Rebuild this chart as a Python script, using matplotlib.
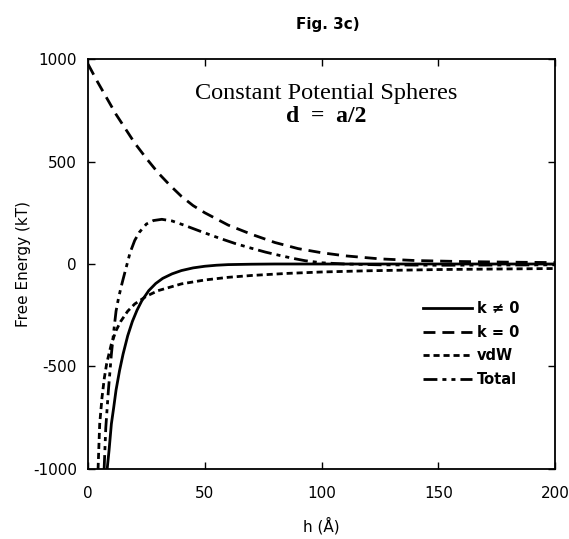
import matplotlib
matplotlib.use("Agg")
import matplotlib.pyplot as plt

plt.rcParams["axes.unicode_minus"] = False

# separation h (Angstrom) and free energies (kT)
h_k0 = [0, 4, 8, 12, 16, 20, 25, 30, 35, 40, 45, 50, 60, 70, 80, 90, 100,
        110, 125, 140, 160, 180, 200]
e_k0 = [975, 890, 810, 730, 660, 590, 515, 445, 385, 330, 285, 250, 190,
        145, 105, 75, 55, 40, 25, 17, 12, 9, 7]

h_kn = [8.2, 9, 10, 11, 12, 13.5, 15, 17, 19, 21, 23, 26, 29, 32, 36, 40,
        45, 50, 55, 60, 70, 80, 100, 150, 200]
e_kn = [-1000, -910, -780, -700, -615, -520, -440, -350, -280, -225, -180,
        -130, -95, -70, -48, -32, -19, -11, -6, -3, -1, 0, 0, 0, 0]

h_vdw = [4.3, 5, 6, 7, 8, 10, 12, 14, 17, 20, 25, 30, 40, 50, 60, 70, 85,
         100, 120, 150, 200]
e_vdw = [-1000, -780, -650, -555, -485, -390, -325, -280, -230, -195, -157,
         -130, -97, -78, -65, -56, -46, -39, -33, -27, -22]

h_tot = [6.9, 7.6, 8.7, 10, 11, 12, 13, 14, 15, 16.5, 18, 20, 22, 25, 28,
         31.6, 36, 41, 48, 56, 63, 69, 76, 82, 88, 93, 100, 110, 125, 150, 200]
e_tot = [-1000, -800, -620, -440, -330, -230, -170, -120, -75, -10, 55, 115,
         155, 195, 212, 218, 210, 190, 160, 127, 100, 80, 58, 42, 27, 16, 6,
         0, -4, -6, -4]

xticks = [0, 50, 100, 150, 200]
yticks = [-1000, -500, 0, 500, 1000]

fig = plt.figure(figsize=(5.69, 5.39), dpi=100)
ax = fig.add_axes([0.1547, 0.1299, 0.8207, 0.7606])

lw = 2.0
ax.plot(h_kn, e_kn, color="black", lw=lw, label="k \u2260 0")
ax.plot(h_k0, e_k0, color="black", lw=lw, dashes=(4.3, 2.5), label="k = 0")
ax.plot(h_vdw, e_vdw, color="black", lw=lw, dashes=(2.2, 1.4), label="vdW")
ax.plot(h_tot, e_tot, color="black", lw=lw,
        dashes=(5, 1.8, 1.45, 1.8, 1.45, 1.8), label="Total")

ax.set_xlim(0, 200)
ax.set_ylim(-1000, 1000)
ax.set_xticks(xticks)
ax.set_yticks(yticks)
ax.tick_params(direction="in", top=True, right=True, length=5, width=1,
               labelsize=11)
ax.tick_params(axis="x", pad=12)
ax.tick_params(axis="y", pad=8)
for s in ax.spines.values():
    s.set_linewidth(1.3)

ax.set_xlabel("h (\u00c5)", fontsize=11, labelpad=12)
ax.set_ylabel("Free Energy (kT)", fontsize=11, labelpad=1.5)

fig.text(0.576, 0.954, "Fig. 3c)", ha="center", va="center",
         fontsize=11, fontweight="bold")

ax.text(0.51, 0.917, "Constant Potential Spheres", transform=ax.transAxes,
        ha="center", va="center", fontsize=17.5, family="Liberation Serif")
ax.text(0.51, 0.859, "d  =  a/2", transform=ax.transAxes, ha="center",
        va="center", fontsize=17, family="Liberation Serif",
        fontweight="bold")

leg = ax.legend(loc="upper left", bbox_to_anchor=(0.717, 0.41), frameon=False,
                borderaxespad=0, borderpad=0, handlelength=3.4,
                handletextpad=0.3, labelspacing=0.6,
                prop={"size": 10.5, "weight": "bold"})

fig.savefig("out.png", dpi=100)
